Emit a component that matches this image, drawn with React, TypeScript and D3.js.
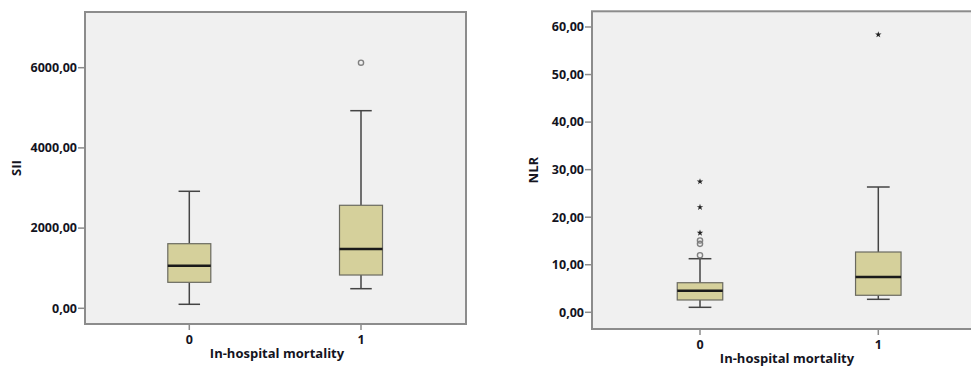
import React from "react";
import * as d3 from "d3";

const categories = ["0", "1"];

// SII panel
const siiTicks = [0, 2000, 4000, 6000];
const siiLow = [100, 489];
const siiQ1 = [648, 830];
const siiMedian = [1062, 1479];
const siiQ3 = [1611, 2569];
const siiHigh = [2918, 4928];
const siiOutliers = [{ cat: "1", value: 6125, kind: "circle" }];

// NLR panel
const nlrTicks = [0, 10, 20, 30, 40, 50, 60];
const nlrLow = [1.05, 2.73];
const nlrQ1 = [2.59, 3.58];
const nlrMedian = [4.54, 7.42];
const nlrQ3 = [6.22, 12.68];
const nlrHigh = [11.27, 26.35];
const nlrOutliers = [
  { cat: "0", value: 27.5, kind: "star" },
  { cat: "0", value: 22.1, kind: "star" },
  { cat: "0", value: 16.7, kind: "star" },
  { cat: "0", value: 15.1, kind: "circle" },
  { cat: "0", value: 14.4, kind: "circle" },
  { cat: "0", value: 12.0, kind: "circle" },
  { cat: "1", value: 58.4, kind: "star" },
];

const FONT = "'Open Sans', 'DejaVu Sans', sans-serif";
const TEXT = "#14141e";
const fmt = (v: number) => v.toFixed(2).replace(".", ",");

type PanelProps = {
  frame: { x0: number; x1: number; y0: number; y1: number };
  yDomain: [number, number];
  yRange: [number, number];
  xRange: [number, number];
  ticks: number[];
  low: number[];
  q1: number[];
  median: number[];
  q3: number[];
  high: number[];
  outliers: { cat: string; value: number; kind: string }[];
  title: string;
  titleX: number;
  boxW: number;
  xLabelX: number;
};

function Panel(p: PanelProps) {
  const y = d3.scaleLinear().domain(p.yDomain).range(p.yRange);
  const x = d3.scalePoint<string>().domain(categories).range(p.xRange);
  const { x0, x1, y0, y1 } = p.frame;
  const star = d3.symbol().type(d3.symbolStar).size(13)()!;
  return (
    <g>
      <rect x={x0} y={y0} width={x1 - x0} height={y1 - y0} fill="#f0f0f0" stroke="#8c8c8c" strokeWidth={2} />
      {p.ticks.map((t) => (
        <g key={t}>
          <line x1={x0 - 7} x2={x0} y1={y(t)} y2={y(t)} stroke="#8c8c8c" strokeWidth={1.5} />
          <text x={x0 - 8} y={y(t)} dy="0.35em" textAnchor="end" fontFamily={FONT} fontWeight={700} fontSize={12.5} fill={TEXT}>
            {fmt(t)}
          </text>
        </g>
      ))}
      {categories.map((c) => (
        <g key={c}>
          <line x1={x(c)!} x2={x(c)!} y1={y1} y2={y1 + 6} stroke="#8c8c8c" strokeWidth={1.5} />
          <text x={x(c)!} y={y1 + 20} textAnchor="middle" fontFamily={FONT} fontWeight={700} fontSize={12.5} fill={TEXT}>
            {c}
          </text>
        </g>
      ))}
      <text x={p.xLabelX} y={y1 + 34} textAnchor="middle" fontFamily={FONT} fontWeight={700} fontSize={13} fill={TEXT}>
        In-hospital mortality
      </text>
      <text
        transform={`translate(${p.titleX},${(y0 + y1) / 2}) rotate(-90)`}
        textAnchor="middle"
        dy="0.35em"
        fontFamily={FONT}
        fontWeight={700}
        fontSize={13}
        fill={TEXT}
      >
        {p.title}
      </text>
      {categories.map((c, i) => {
        const cx = x(c)!;
        const bw = p.boxW;
        const cw = bw / 2;
        return (
          <g key={c}>
            <line x1={cx} x2={cx} y1={y(p.high[i])} y2={y(p.q3[i])} stroke="#444" strokeWidth={1.5} />
            <line x1={cx} x2={cx} y1={y(p.q1[i])} y2={y(p.low[i])} stroke="#444" strokeWidth={1.5} />
            <line x1={cx - cw / 2} x2={cx + cw / 2} y1={y(p.high[i])} y2={y(p.high[i])} stroke="#444" strokeWidth={1.5} />
            <line x1={cx - cw / 2} x2={cx + cw / 2} y1={y(p.low[i])} y2={y(p.low[i])} stroke="#444" strokeWidth={1.5} />
            <rect
              x={cx - bw / 2}
              y={y(p.q3[i])}
              width={bw}
              height={y(p.q1[i]) - y(p.q3[i])}
              fill="#d5d09b"
              stroke="#6a6a60"
              strokeWidth={1.2}
            />
            <line x1={cx - bw / 2} x2={cx + bw / 2} y1={y(p.median[i])} y2={y(p.median[i])} stroke="#1a1a1a" strokeWidth={2.5} />
          </g>
        );
      })}
      {p.outliers.map((o, i) =>
        o.kind === "circle" ? (
          <circle key={i} cx={x(o.cat)!} cy={y(o.value)} r={2.6} fill="none" stroke="#808080" strokeWidth={1.4} />
        ) : (
          <path key={i} d={star} transform={`translate(${x(o.cat)!},${y(o.value)})`} fill="#222" />
        )
      )}
    </g>
  );
}

export default function App() {
  return (
    <div style={{ position: "fixed", left: 0, top: 0 }}>
      <svg width={971} height={366} style={{ display: "block", background: "#fff" }}>
        <Panel
          frame={{ x0: 85, x1: 466, y0: 12, y1: 324 }}
          yDomain={[0, 6000]}
          yRange={[308.3, 67.7]}
          xRange={[189.3, 361]}
          ticks={siiTicks}
          low={siiLow}
          q1={siiQ1}
          median={siiMedian}
          q3={siiQ3}
          high={siiHigh}
          outliers={siiOutliers}
          title="SII"
          titleX={16}
          boxW={43}
          xLabelX={277}
        />
        <Panel
          frame={{ x0: 592, x1: 975, y0: 11.3, y1: 329 }}
          yDomain={[0, 60]}
          yRange={[312.3, 27]}
          xRange={[700, 878.3]}
          ticks={nlrTicks}
          low={nlrLow}
          q1={nlrQ1}
          median={nlrMedian}
          q3={nlrQ3}
          high={nlrHigh}
          outliers={nlrOutliers}
          title="NLR"
          titleX={533}
          boxW={45.5}
          xLabelX={787}
        />
      </svg>
    </div>
  );
}
